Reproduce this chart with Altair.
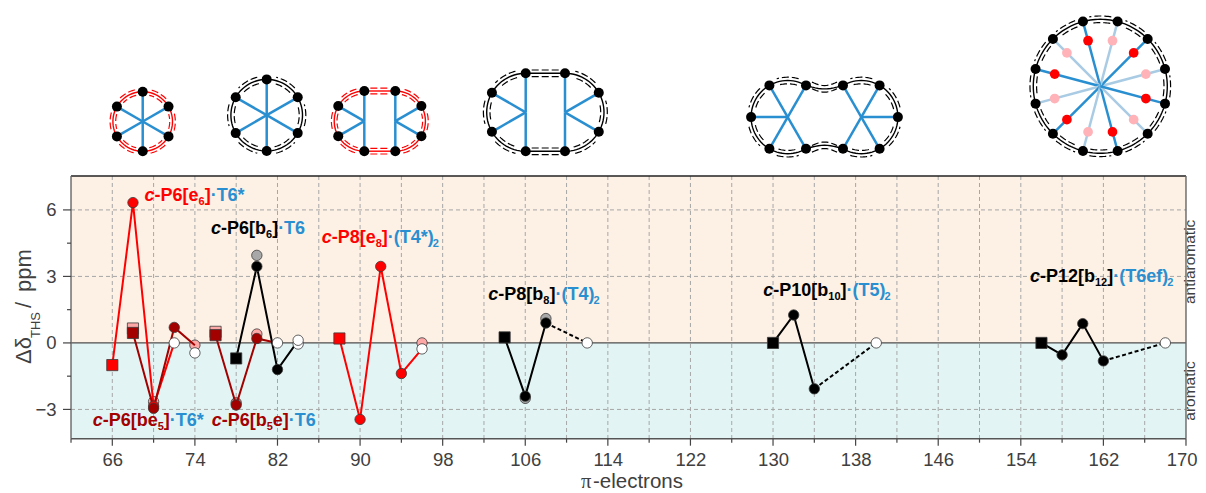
import math
import altair as alt
import pandas as pd

# ---------- data ----------
X_MAJOR = [66, 74, 82, 90, 98, 106, 114, 122, 130, 138, 146, 154, 162, 170]
X_MINOR = [62, 70, 78, 86, 94, 102, 110, 118, 126, 134, 142, 150, 158, 166]
Y_MAJOR = [6, 3, 0, -3]
Y_MINOR = [4.5, 1.5, -1.5]
Y_GRID = [6, 3, -3]
X_DOMAIN = [62, 170]
Y_DOMAIN = [-4.32, 7.53]

RED, DARK, BLACK, BLUE = "#ff0000", "#a30000", "#000000", "#2a8fd0"
PINK, GREY, WHITE = "#ffa8a8", "#a8a8a8", "#ffffff"
TXT = "#404040"

# solid traces: name, colour, xs, ys
e6_x, e6_y = [66, 68, 70, 72], [-1.0, 6.33, -2.85, 0.0]
be5_x, be5_y = [68, 70, 72, 74], [0.45, -2.95, 0.7, -0.1]
b5e_x, b5e_y = [76, 78, 80, 82], [0.35, -2.8, 0.2, 0.0]
b6_x, b6_y = [78, 80, 82, 84], [-0.7, 3.45, -1.2, 0.1]
e8_x, e8_y = [88, 90, 92, 94, 96], [0.2, -3.45, 3.45, -1.38, -0.27]
b8_x, b8_y = [104, 106, 108], [0.25, -2.4, 0.9]
b10_x, b10_y = [130, 132, 134], [0.0, 1.26, -2.07]
b12_x, b12_y = [156, 158, 160, 162], [0.0, -0.54, 0.87, -0.81]
# dotted closing traces
b8d_x, b8d_y = [108, 112], [0.9, 0.0]
b10d_x, b10d_y = [134, 140], [-2.07, 0.0]
b12d_x, b12d_y = [162, 168], [-0.81, 0.0]
# faint companions
pale_sq = [(68, 0.65, PINK), (76, 0.5, PINK)]
pale_ci = [(70, -2.65, PINK), (74, -0.1, PINK), (78, -2.7, "#c08080"), (80, 0.4, PINK),
           (96, 0.0, PINK), (80, 3.95, GREY), (106, -2.5, GREY), (108, 1.1, GREY)]
# squares = first points, circles = the others, white = last points
white_pts = [(72, 0.0), (74, -0.45), (82, 0.0), (84, -0.05), (84, 0.12), (96, -0.27),
             (112, 0.0), (140, 0.0), (168, 0.0)]

solid = [("e6", RED, e6_x, e6_y), ("be5", DARK, be5_x, be5_y), ("b5e", DARK, b5e_x, b5e_y),
         ("b6", BLACK, b6_x, b6_y), ("e8", RED, e8_x, e8_y), ("b8", BLACK, b8_x, b8_y),
         ("b10", BLACK, b10_x, b10_y), ("b12", BLACK, b12_x, b12_y)]
dotted = [("b8d", b8d_x, b8d_y), ("b10d", b10d_x, b10d_y), ("b12d", b12d_x, b12d_y)]

line_df = pd.DataFrame([dict(s=n, c=c, x=a, y=b) for n, c, xs, ys in solid for a, b in zip(xs, ys)])
dot_df = pd.DataFrame([dict(s=n, x=a, y=b) for n, xs, ys in dotted for a, b in zip(xs, ys)])
sq_df = pd.DataFrame([dict(c=c, x=xs[0], y=ys[0]) for n, c, xs, ys in solid])
circ_rows = []
for n, c, xs, ys in solid:
    for a, b in zip(xs[1:], ys[1:]):
        if (a, b) in white_pts or (a, b) == (74, -0.1) or (a, b) == (84, 0.1):
            continue
        circ_rows.append(dict(c=c, x=a, y=b))
circ_df = pd.DataFrame(circ_rows)
pale_sq_df = pd.DataFrame(pale_sq, columns=["x", "y", "c"])
pale_ci_df = pd.DataFrame(pale_ci, columns=["x", "y", "c"])
white_df = pd.DataFrame(white_pts, columns=["x", "y"])

W, H = 1115, 262.7
OX, OY = 71, 176  # page position of the plot's origin
FONT = "Liberation Sans"
xs = alt.Scale(domain=X_DOMAIN, nice=False, zero=False)
ys = alt.Scale(domain=Y_DOMAIN, nice=False, zero=False)
x_axis = alt.Axis(values=X_MAJOR[:-1], ticks=False, domain=False, grid=False, labelFontSize=18.5, labelFont=FONT,
                  labelColor=TXT, labelPadding=12, title=None, format="d", labelOverlap=False, labelFlush=False)
y_axis = alt.Axis(values=Y_MAJOR, ticks=False, domain=False, grid=False, labelFontSize=18.5, labelFont=FONT,
                  labelColor=TXT, labelPadding=15, title=None, labelOverlap=False, labelFlush=False)
X = lambda: alt.X("x:Q", scale=xs, axis=x_axis, title=None)
Y = lambda: alt.Y("y:Q", scale=ys, axis=y_axis, title=None)
color_id = alt.Color("c:N", scale=None, legend=None)

# ---------- backgrounds, grid, frame ----------
band_df = pd.DataFrame({"y": [0, Y_DOMAIN[0]], "y1": [Y_DOMAIN[1], 0], "c": ["#fdf1e6", "#e2f5f4"]})
bands = alt.Chart(band_df).mark_rect().encode(
    x=alt.value(0), x2=alt.value(W), y=Y(), y2="y1:Q", color=color_id)
xgrid = alt.Chart(pd.DataFrame({"x": sorted(X_MAJOR + X_MINOR)[1:-1]})).mark_rule(
    color="#a6a6a6", strokeDash=[4, 3], strokeWidth=1).encode(x=X(), y=alt.value(0), y2=alt.value(H))
ygrid = alt.Chart(pd.DataFrame({"y": Y_GRID})).mark_rule(
    color="#a6a6a6", strokeDash=[4, 3], strokeWidth=1).encode(y=Y(), x=alt.value(0), x2=alt.value(W))
zero = alt.Chart(pd.DataFrame({"y": [0]})).mark_rule(color="#4d4d4d", strokeWidth=1.4).encode(
    y=Y(), x=alt.value(0), x2=alt.value(W))
frame_h = alt.Chart(pd.DataFrame({"y": [Y_DOMAIN[1], Y_DOMAIN[0]], "c": ["#222222", "#555555"]})).mark_rule(
    strokeWidth=1.4).encode(y=Y(), x=alt.value(0), x2=alt.value(W), color=color_id)
frame_v = alt.Chart(pd.DataFrame({"x": X_DOMAIN})).mark_rule(strokeWidth=1.4, color="#666666").encode(
    x=X(), y=alt.value(0), y2=alt.value(H))
def xticks(vals, n):
    return alt.Chart(pd.DataFrame({"x": vals})).mark_rule(color="#444444", strokeWidth=1.2).encode(
        x=X(), y=alt.value(H), y2=alt.value(H + n))
def yticks(vals, n):
    return alt.Chart(pd.DataFrame({"y": vals})).mark_rule(color="#444444", strokeWidth=1.2).encode(
        y=Y(), x=alt.value(0), x2=alt.value(-n))

# ---------- series ----------
lines = alt.Chart(line_df).mark_line(strokeWidth=2).encode(x=X(), y=Y(), detail="s:N", color=color_id)
dashes = alt.Chart(dot_df).mark_line(strokeWidth=2, strokeDash=[4, 2.5], color=BLACK).encode(x=X(), y=Y(), detail="s:N")
STROKE = "#3a3a3a"
SQ, CI = 125, 108
pale_s = alt.Chart(pale_sq_df).mark_square(size=SQ, opacity=1, stroke=STROKE, strokeWidth=0.8).encode(x=X(), y=Y(), color=color_id)
pale_c = alt.Chart(pale_ci_df).mark_circle(size=CI, opacity=1, stroke=STROKE, strokeWidth=0.8).encode(x=X(), y=Y(), color=color_id)
squares = alt.Chart(sq_df).mark_square(size=SQ, opacity=1, stroke=STROKE, strokeWidth=0.8).encode(x=X(), y=Y(), color=color_id)
circles = alt.Chart(circ_df).mark_circle(size=CI, opacity=1, stroke=STROKE, strokeWidth=0.8).encode(x=X(), y=Y(), color=color_id)
whites = alt.Chart(white_df).mark_circle(size=CI, opacity=1, color=WHITE, stroke=STROKE, strokeWidth=0.8).encode(x=X(), y=Y())

main = alt.layer(bands, xgrid, ygrid, zero, frame_h, frame_v, xticks(X_MAJOR, 7), xticks(X_MINOR, 4),
                 yticks(Y_MAJOR, 8), yticks(Y_MINOR, 4), pale_s, pale_c, lines, dashes,
                 squares, circles, whites)

# ---------- labels as styled runs, laid out with Arial Bold advance widths ----------
ADV = {"c": .556, "-": .333, "P": .667, "[": .333, "]": .333, "e": .556, "b": .611, "\u00b7": .278,
       "T": .611, "*": .389, "(": .333, ")": .333, "f": .333}
def adv(text, size):
    return sum(ADV.get(ch, .556) for ch in text) * size

S, SS = 18, 11
LABELS = [
    (144.5, 201.5, RED, [("c", "i"), ("-P6[e", "n"), ("6", "s"), ("]", "n"), ("\u00b7T6*", "b")]),
    (211, 234, BLACK, [("c", "i"), ("-P6[b", "n"), ("6", "s"), ("]", "n"), ("\u00b7T6", "b")]),
    (92.7, 426, DARK, [("c", "i"), ("-P6[be", "n"), ("5", "s"), ("]", "n"), ("\u00b7T6*", "b")]),
    (211.7, 426, DARK, [("c", "i"), ("-P6[b", "n"), ("5", "s"), ("e]", "n"), ("\u00b7T6", "b")]),
    (321.7, 242.7, RED, [("c", "i"), ("-P8[e", "n"), ("8", "s"), ("]", "n"), ("\u00b7(T4*)", "b"), ("2", "bs")]),
    (488.3, 300, BLACK, [("c", "i"), ("-P8[b", "n"), ("8", "s"), ("]", "n"), ("\u00b7(T4)", "b"), ("2", "bs")]),
    (763.3, 296, BLACK, [("c", "i"), ("-P10[b", "n"), ("10", "s"), ("]", "n"), ("\u00b7(T5)", "b"), ("2", "bs")]),
    (1030, 281.7, BLACK, [("c", "i"), ("-P12[b", "n"), ("12", "s"), ("]", "n"), ("\u00b7(T6ef)", "b"), ("2", "bs")]),
]
runs = []
for x0, y0, col, parts in LABELS:
    cur = x0
    for text, kind in parts:
        sub = kind in ("s", "bs")
        size = SS if sub else S
        runs.append(dict(t=text, x=cur - OX, y=y0 + (4 if sub else 0) - OY, c=BLUE if kind in ("b", "bs") else col,
                         z=size, i="i" if kind == "i" else "n"))
        cur += adv(text, size)
run_df = pd.DataFrame(runs)

PX = alt.X("x:Q", scale=None, axis=None)
PY = alt.Y("y:Q", scale=None, axis=None)
def text_layer(df, align="left", font=FONT, **kw):
    return alt.Chart(df).mark_text(align=align, baseline="alphabetic", font=font, **kw).encode(
        x=PX, y=PY, text="t:N", color=color_id, size=alt.Size("z:Q", scale=None, legend=None))
label_n = text_layer(run_df[run_df.i == "n"], fontWeight="bold")
label_i = text_layer(run_df[run_df.i == "i"], fontWeight="bold", fontStyle="italic")

BASE = 488.5
pi_txt = text_layer(pd.DataFrame([dict(t="\u03c0", x=581 - OX, y=BASE - OY, c=TXT, z=20.5)]), font="Liberation Serif")
el_txt = text_layer(pd.DataFrame([dict(t="-electrons", x=593 - OX, y=BASE - OY, c=TXT, z=20.5)]))
# the last tick label sits flush with the right edge of the page area
last_txt = text_layer(pd.DataFrame([dict(t=str(X_MAJOR[-1]), x=1197.5 - OX, y=465.7 - OY, c=TXT, z=18.5)]), align="right")
rot = pd.DataFrame([
    dict(t="\u0394\u03b4", x=30.5 - OX, y=364 - OY, c=TXT, z=22),
    dict(t="THS", x=40 - OX, y=338 - OY, c=TXT, z=13),
    dict(t="/", x=30.5 - OX, y=308 - OY, c=TXT, z=22),
    dict(t="ppm", x=30.5 - OX, y=292 - OY, c=TXT, z=22),
    dict(t="antiaromatic", x=1194.8 - OX, y=304 - OY, c=TXT, z=15.5),
    dict(t="aromatic", x=1194.8 - OX, y=420.7 - OY, c=TXT, z=15.5),
])
rot_txt = text_layer(rot, angle=270)

# ---------- molecule schematics (generated from centre and radius) ----------
def pt(cx, cy, r, a):
    return cx + r * math.cos(math.radians(a)), cy - r * math.sin(math.radians(a))

class Sketch:
    def __init__(self):
        self.rings, self.dash, self.spoke, self.node = [], [], [], []
        self.n = 0
    def path(self, store, pts, c):
        self.n += 1
        for k, (x, y) in enumerate(pts):
            store.append(dict(id=self.n, k=k, x=x - OX, y=y - OY, c=c))
    def arc(self, cx, cy, r, a0, a1, c, gap=3.3, trim=12):
        steps = 14
        self.path(self.rings, [pt(cx, cy, r, a0 + (a1 - a0) * i / steps) for i in range(steps + 1)], c)
        for rr in (r + gap, r - gap):
            self.path(self.dash, [pt(cx, cy, rr, a0 + trim + (a1 - a0 - 2 * trim) * i / steps)
                                  for i in range(steps + 1)], c)
    def link(self, x0, x1, y, sag, c, gap=3.3):
        steps = 12
        fn = lambda o, lo=0.0: [(x0 + lo + (x1 - x0 - 2 * lo) * i / steps,
                                 y + o + sag * math.sin(math.pi * i / steps)) for i in range(steps + 1)]
        self.path(self.rings, fn(0), c)
        self.path(self.dash, fn(gap, 6), c)
        self.path(self.dash, fn(-gap, 6), c)
    def spokes(self, hub, ends, c=BLUE):
        for e in ends:
            self.path(self.spoke, [hub, e], c)
    def nodes(self, pts, c=BLACK, z=100):
        for x, y in pts:
            self.node.append(dict(x=x - OX, y=y - OY, c=c, z=z))

sk = Sketch()
# c-P6[e6] and c-P6[b6]
for cx, cy, r, col, g in [(142.7, 121.5, 29.8, RED, 2.8), (266.7, 115.2, 35.8, BLACK, 3.3)]:
    angs = [90, 150, 210, 270, 330, 390]
    ends = [pt(cx, cy, r, a) for a in angs]
    for a in angs:
        sk.arc(cx, cy, r, a, a + 60, col, gap=g, trim=14)
    sk.spokes((cx, cy), ends)
    sk.nodes(ends)
# c-P8[e8] and c-P8[b8]
for xl, xr, cy, r, col, g in [(364.3, 395.3, 121.1, 30.1, RED, 2.8), (525.7, 565, 112.3, 39, BLACK, 3.3)]:
    left = [pt(xl, cy, r, a) for a in (90, 150, 210, 270)]
    right = [pt(xr, cy, r, a) for a in (90, 30, -30, -90)]
    for a in (90, 150, 210):
        sk.arc(xl, cy, r, a, a + 60, col, gap=g, trim=14)
    for a in (-90, -30, 30):
        sk.arc(xr, cy, r, a, a + 60, col, gap=g, trim=14)
    sk.link(xl, xr, cy - r, 0, col, gap=g)
    sk.link(xl, xr, cy + r, 0, col, gap=g)
    sk.spokes((xl, cy), left)
    sk.spokes((xr, cy), right)
    sk.nodes(left + right)
# c-P10[b10]
xl, xr, cy, r = 787.7, 861.3, 117.1, 36.6
left = [pt(xl, cy, r, a) for a in (60, 120, 180, 240, 300)]
right = [pt(xr, cy, r, a) for a in (-120, -60, 0, 60, 120)]
for a in (60, 120, 180, 240):
    sk.arc(xl, cy, r, a, a + 60, BLACK, trim=14)
for a in (-120, -60, 0, 60):
    sk.arc(xr, cy, r, a, a + 60, BLACK, trim=14)
sk.link(xl + r / 2, xr - r / 2, cy - r * math.sin(math.radians(60)), 3.5, BLACK)
sk.link(xl + r / 2, xr - r / 2, cy + r * math.sin(math.radians(60)), -3.5, BLACK)
sk.spokes((xl, cy), left)
sk.spokes((xr, cy), right)
sk.nodes(left + right)
# c-P12[b12]
cx, cy, r = 1100.3, 86.3, 67
angs = [15 + 30 * k for k in range(12)]
for a in angs:
    sk.arc(cx, cy, r, a, a + 30, BLACK, trim=6)
for k, a in enumerate(angs):
    col = BLUE if k % 2 == 1 else "#a9cbe3"
    sk.spokes((cx, cy), [pt(cx, cy, r, a)], col)
for k, a in enumerate(angs):
    sk.nodes([pt(cx, cy, 47.2, a)], RED if k % 2 == 1 else "#ffb3b8", 95)
sk.nodes([pt(cx, cy, r, a) for a in angs])

def path_layer(rows, width, dash=None):
    kw = dict(strokeDash=dash) if dash else {}
    return alt.Chart(pd.DataFrame(rows)).mark_line(strokeWidth=width, **kw).encode(
        x=PX, y=PY, detail="id:N", order="k:Q", color=color_id)

schem = alt.layer(
    path_layer(sk.rings, 1.4), path_layer(sk.dash, 1.2, [7, 3]), path_layer(sk.spoke, 2.5),
    alt.Chart(pd.DataFrame(sk.node)).mark_circle(opacity=1).encode(
        x=PX, y=PY, color=color_id, size=alt.Size("z:Q", scale=None, legend=None)),
    label_n, label_i, pi_txt, el_txt, last_txt, rot_txt,
)

chart = (
    alt.layer(main, schem)
    .resolve_scale(x="independent", y="independent")
    .properties(width=W, height=H, autosize=alt.AutoSizeParams(type="none"),
                padding={"left": 63, "top": 168, "right": 12, "bottom": 54}, background="#ffffff")
    .configure_view(stroke=None)
)
chart.save("out.html", embed_options={"renderer": "svg", "actions": False})
